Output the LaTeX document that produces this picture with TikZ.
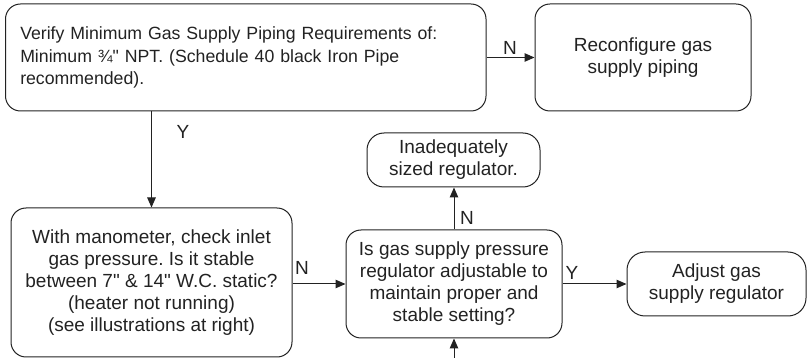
\documentclass[tikz,border=0pt]{standalone}
\usepackage{fontspec}
\setmainfont{Liberation Sans}[Ligatures=TeXOff]
\usetikzlibrary{arrows.meta}
\definecolor{ink}{HTML}{222222}
\frenchspacing
\begin{document}
\begin{tikzpicture}[x=1pt,y=-1pt,
  box/.style={draw=ink, line width=1pt, rounded corners=15pt, align=center, text=ink,
    font=\fontsize{19}{22}\selectfont, inner sep=0pt},
  conn/.style={draw=ink, line width=1pt, -{Triangle[length=10pt,width=8.5pt]}},
  lbl/.style={text=ink, font=\fontsize{19}{22}\selectfont, inner sep=0pt}]
\useasboundingbox (0,0) rectangle (807,358);

\node[box, minimum width=480.5pt, minimum height=107pt, text width=451pt, align=left,
  font=\fontsize{17.7}{22.4}\selectfont] (b1) at (245.75,57.5)
  {Verify Minimum Gas Supply Piping Requirements of:\\Minimum ¾" NPT. (Schedule 40 black Iron Pipe\\recommended).};
\node[box, minimum width=216pt, minimum height=107pt] (b2) at (643,57.5)
  {Reconfigure gas\\supply piping};
\node[box, minimum width=281pt, minimum height=149pt] (b3) at (151.5,282.5)
  {With manometer, check inlet\\gas pressure. Is it stable\\between 7" \& 14" W.C. static?\\(heater not running)\\(see illustrations at right)};
\node[box, minimum width=216pt, minimum height=108pt] (b4) at (454,284)
  {Is gas supply pressure\\regulator adjustable to\\maintain proper and\\stable setting?};
\node[box, rounded corners=17pt, minimum width=173pt, minimum height=54pt] (b5) at (453.5,160)
  {Inadequately\\sized regulator.};
\node[box, rounded corners=18pt, minimum width=179pt, minimum height=64pt] (b6) at (716.5,284)
  {Adjust gas\\supply regulator};
\coordinate (in) at (454,362);

\draw[conn] (b1.east) -- (b2.west);
\draw[conn] (b3.north |- b1.south) -- (b3.north);
\draw[conn] (b4.west -| b3.east) -- (b4.west);
\draw[conn] (b4.north) -- (b4.north |- b5.south);
\draw[conn] (b4.east) -- (b6.west);
\draw[conn] (in) -- (b4.south);

\node[lbl] (n1) at (510,48) {N};
\node[lbl] (y1) at (183,132) {Y};
\node[lbl] (n2) at (302,268) {N};
\node[lbl] (n3) at (467,218) {N};
\node[lbl] (y2) at (572,273) {Y};
\end{tikzpicture}
\end{document}
